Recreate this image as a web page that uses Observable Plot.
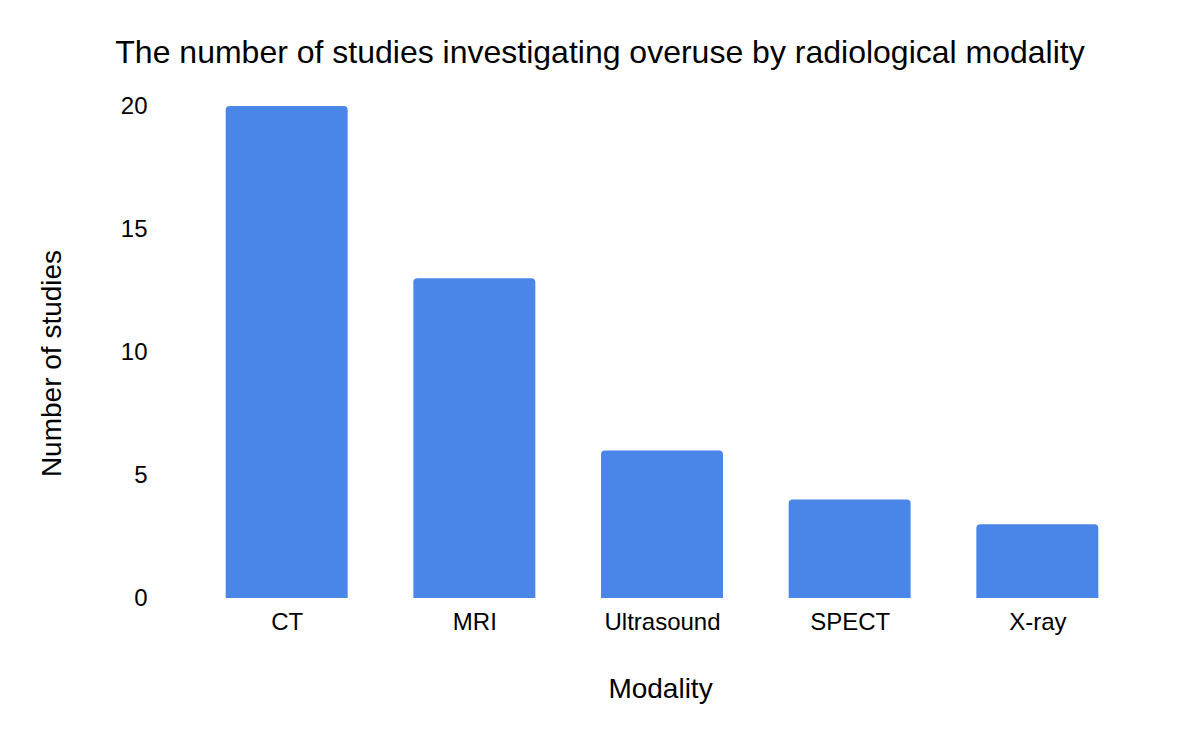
<!DOCTYPE html>
<html>
<head>
<meta charset="utf-8">
<script src="https://cdn.jsdelivr.net/npm/d3@7"></script>
<script src="https://cdn.jsdelivr.net/npm/@observablehq/plot@0.6"></script>
<style>
  html, body { margin: 0; padding: 0; background: #fff; }
  body { width: 1200px; height: 742px; overflow: hidden; font-family: "Liberation Sans", Arial, sans-serif; }
  #title { height: 85px; box-sizing: border-box; padding-top: 36px; text-align: center; font-size: 32px; line-height: 32px; color: #000; white-space: nowrap; }
  #chart svg { display: block; }
</style>
</head>
<body>
<div id="title">The number of studies investigating overuse by radiological modality</div>
<div id="chart"></div>
<script>
const modalities = ["CT", "MRI", "Ultrasound", "SPECT", "X-ray"];
const studyCounts = [20, 13, 6, 4, 3];
const yTicks = [0, 5, 10, 15, 20];
const xAxisLabel = "Modality";
const yAxisLabel = "Number of studies";

const data = modalities.map((m, i) => ({modality: m, count: studyCounts[i]}));

const chart = Plot.plot({
  width: 1200,
  height: 657,
  marginTop: 21,
  marginBottom: 144,
  marginLeft: 160,
  marginRight: 36,
  style: {fontFamily: "'Liberation Sans', Arial, sans-serif", fontSize: "24px", color: "#000", background: "#fff"},
  x: {domain: modalities, padding: 0.35, round: false, label: null, tickSize: 0, tickPadding: 14},
  y: {domain: [0, 20], ticks: yTicks, label: null, tickSize: 0, tickPadding: 13},
  marks: [
    Plot.barY(data, {x: "modality", y: "count", fill: "#4a86e8", ry1: 4}),
    Plot.text([xAxisLabel], {frameAnchor: "bottom", textAnchor: "middle", lineAnchor: "middle", dx: -2, dy: 91, fontSize: 28, fill: "#000"}),
    Plot.text([yAxisLabel], {frameAnchor: "left", textAnchor: "middle", lineAnchor: "middle", rotate: -90, dx: -108, dy: 11, fontSize: 28, fill: "#000"})
  ]
});
document.getElementById("chart").appendChild(chart);
</script>
</body>
</html>
